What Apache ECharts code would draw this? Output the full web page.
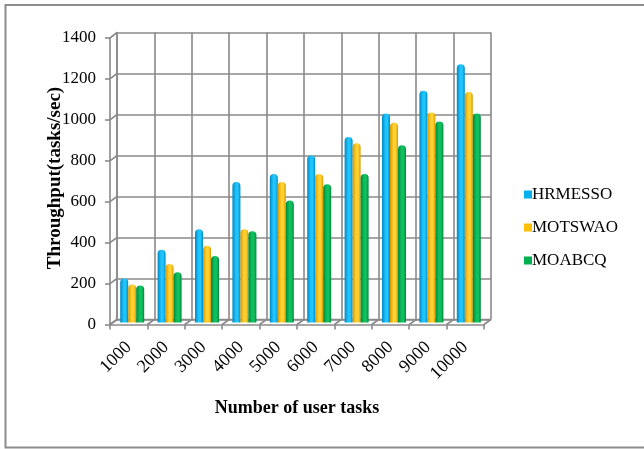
<!DOCTYPE html>
<html>
<head>
<meta charset="utf-8">
<script src="https://cdn.jsdelivr.net/npm/echarts@6/dist/echarts.min.js"></script>
<style>
  html, body { margin: 0; padding: 0; background: #ffffff; }
  #chart { width: 644px; height: 449px; }
</style>
</head>
<body>
<div id="chart"></div>
<script>
// Throughput per scheduler for an increasing number of user tasks
const categories = ['1000', '2000', '3000', '4000', '5000', '6000', '7000', '8000', '9000', '10000'];
const hrmesso = [215, 355, 455, 685, 725, 815, 905, 1020, 1130, 1260];
const motswao = [185, 285, 375, 455, 685, 725, 875, 975, 1025, 1125];
const moabcq  = [180, 245, 325, 445, 595, 675, 725, 865, 980, 1020];
const seriesNames = ['HRMESSO', 'MOTSWAO', 'MOABCQ'];
const yTicks = [0, 200, 400, 600, 800, 1000, 1200, 1400];

const W = 644, H = 449;
const FONT = 'Liberation Serif';
const LINE = '#8a8a8a';

// Pseudo-3D box: front edge, back wall, and the bar plane in between
const front = { left: 110, right: 484, top: 38, bottom: 324.5 };
const back  = { left: 117, right: 491, top: 32.5, bottom: 319.5 };
const mid   = { left: 113.5, right: 487.5, top: 35.5, bottom: 322.5 };
const yMax = 1400;

function gridOf(b) {
  return { left: b.left, right: W - b.right, top: b.top, bottom: H - b.bottom, containLabel: false };
}

function cyl(dark, light) {
  return {
    type: 'linear', x: 0, y: 0, x2: 1, y2: 0,
    colorStops: [
      { offset: 0, color: dark },
      { offset: 0.45, color: light },
      { offset: 0.7, color: light },
      { offset: 1, color: dark }
    ]
  };
}
const palette = [
  { base: '#00B0F0', fill: cyl('#0088c0', '#20c4ff') },
  { base: '#FFC000', fill: cyl('#d89a00', '#ffd030') },
  { base: '#00B050', fill: cyl('#008838', '#10c060') }
];
const values = [hrmesso, motswao, moabcq];

// Side-wall and floor connectors between the front edge and the back wall
const deco = [];
const lineStyle = { stroke: LINE, lineWidth: 1.6 };
function yAt(b, v) { return b.bottom - (b.bottom - b.top) * v / yMax; }
yTicks.forEach(v => {
  deco.push({ type: 'line', shape: { x1: front.left, y1: yAt(front, v), x2: back.left, y2: yAt(back, v) }, style: lineStyle, silent: true });
});
for (let i = 0; i <= categories.length; i++) {
  const xf = front.left + (front.right - front.left) * i / categories.length;
  const xb = back.left + (back.right - back.left) * i / categories.length;
  deco.push({ type: 'line', shape: { x1: xf, y1: front.bottom, x2: xb, y2: back.bottom }, style: lineStyle, silent: true });
}
deco.push({ type: 'line', shape: { x1: back.left, y1: back.bottom, x2: back.right, y2: back.bottom }, style: lineStyle, silent: true });
// outer frame
deco.push({ type: 'rect', shape: { x: 5.5, y: 5, width: 660, height: 442.5 }, style: { fill: null, stroke: '#8c8c8c', lineWidth: 2 }, silent: true, z: -10 });
// axis titles
deco.push({
  type: 'text', x: 55, y: 178, rotation: Math.PI / 2,
  style: { text: 'Throughput(tasks/sec)', font: 'bold 19px "' + FONT + '"', fill: '#000', align: 'center', verticalAlign: 'middle' }
});
deco.push({
  type: 'text', x: 297, y: 408,
  style: { text: 'Number of user tasks', font: 'bold 18px "' + FONT + '"', fill: '#000', align: 'center', verticalAlign: 'middle' }
});

const option = {
  animation: false,
  backgroundColor: '#ffffff',
  grid: [gridOf(back), gridOf(front), gridOf(mid)],
  xAxis: [
    {
      gridIndex: 0, type: 'category', data: categories, boundaryGap: true,
      axisLine: { show: false }, axisTick: { show: false }, axisLabel: { show: false },
      splitLine: { show: true, interval: 0, lineStyle: { color: LINE, width: 1.6 } }
    },
    {
      gridIndex: 1, type: 'category', data: categories, boundaryGap: true,
      axisLine: { show: true, lineStyle: { color: LINE, width: 1.6 } },
      axisTick: { show: true, interval: 0, length: 5, lineStyle: { color: LINE, width: 1.6 } },
      axisLabel: { show: true, rotate: 45, margin: 20, fontFamily: FONT, fontSize: 18, color: '#000', interval: 0 },
      splitLine: { show: false }
    },
    {
      gridIndex: 2, type: 'category', data: categories, boundaryGap: true,
      show: false
    }
  ],
  yAxis: [
    {
      gridIndex: 0, type: 'value', min: 0, max: yMax, interval: 200,
      axisLine: { show: true, lineStyle: { color: LINE, width: 1.6 } },
      axisTick: { show: false }, axisLabel: { show: false },
      splitLine: { show: true, lineStyle: { color: LINE, width: 1.6 } }
    },
    {
      gridIndex: 1, type: 'value', min: 0, max: yMax, interval: 200,
      axisLine: { show: true, lineStyle: { color: LINE, width: 1.6 } },
      axisTick: { show: true, length: 5, lineStyle: { color: LINE, width: 1.6 } },
      axisLabel: { show: true, margin: 14, fontFamily: FONT, fontSize: 17, color: '#000', formatter: v => String(v) },
      splitLine: { show: false }
    },
    {
      gridIndex: 2, type: 'value', min: 0, max: yMax, interval: 200, show: false,
      splitLine: { show: false }
    }
  ],
  legend: {
    orient: 'vertical', left: 519, top: 181,
    itemWidth: 8, itemHeight: 8, itemGap: 16,
    icon: 'rect',
    textStyle: { fontFamily: FONT, fontSize: 17, color: '#000', padding: [0, 0, 0, -5] },
    data: seriesNames.map((n, i) => ({ name: n, itemStyle: { color: palette[i].base } }))
  },
  graphic: deco,
  series: seriesNames.map((n, i) => ({
    name: n, type: 'bar', xAxisIndex: 2, yAxisIndex: 2,
    data: values[i],
    barWidth: 8, barGap: '0%',
    itemStyle: { color: palette[i].fill, borderRadius: [4, 4, 0, 0] },
    z: 5
  }))
};

const chart = echarts.init(document.getElementById('chart'), null, { renderer: 'canvas' });
chart.setOption(option);
</script>
</body>
</html>
